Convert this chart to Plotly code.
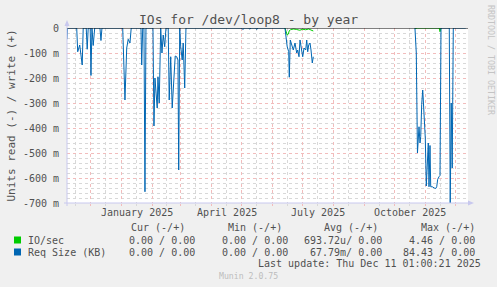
import plotly.graph_objects as go

# ---------------- data (values in milli-units) ----------------
req_dates = [
    "2024-11-07 07:00", "2024-11-07 20:00", "2024-11-17 00:00", "2024-11-18 00:00",
    "2024-11-20 00:00", "2024-11-22 12:00", "2024-11-23 12:00", "2024-11-26 12:00",
    "2024-11-27 12:00", "2024-11-28 12:00", "2024-11-30 12:00", "2024-12-01 06:00",
    "2024-12-02 06:00", "2024-12-03 12:00", "2024-12-05 00:00", "2024-12-10 06:00",
    "2024-12-11 06:00", "2024-12-12 06:00",
    "2025-01-02 00:00", "2025-01-04 06:00", "2025-01-06 00:00", "2025-01-07 12:00",
    "2025-01-09 06:00", "2025-01-10 12:00",
    "2025-01-20 06:00", "2025-01-21 00:00", "2025-01-22 00:00", "2025-01-23 06:00",
    "2025-01-24 06:00", "2025-01-25 06:00",
    "2025-02-01 06:00", "2025-02-02 06:00", "2025-02-03 06:00", "2025-02-04 06:00",
    "2025-02-05 12:00", "2025-02-06 06:00", "2025-02-07 12:00", "2025-02-09 00:00",
    "2025-02-10 06:00", "2025-02-11 12:00", "2025-02-13 00:00", "2025-02-14 06:00",
    "2025-02-16 12:00", "2025-02-17 12:00", "2025-02-19 00:00", "2025-02-20 12:00",
    "2025-02-22 06:00", "2025-02-23 12:00", "2025-02-25 00:00", "2025-02-26 06:00",
    "2025-02-27 00:00", "2025-02-28 00:00", "2025-03-01 00:00", "2025-03-02 12:00",
    "2025-03-03 12:00", "2025-03-05 00:00", "2025-03-06 06:00",
    "2025-05-01 00:00", "2025-05-02 00:00", "2025-05-03 00:00", "2025-05-04 00:00",
    "2025-05-08 00:00", "2025-05-09 00:00", "2025-05-10 00:00", "2025-05-15 00:00",
    "2025-05-16 00:00", "2025-05-17 00:00",
    "2025-06-13 06:00", "2025-06-14 06:00", "2025-06-15 12:00", "2025-06-17 00:00",
    "2025-06-17 14:00", "2025-06-18 14:00", "2025-06-20 00:00", "2025-06-21 14:00",
    "2025-06-23 07:00", "2025-06-25 00:00", "2025-06-26 00:00", "2025-06-27 07:00",
    "2025-06-28 07:00", "2025-06-30 00:00", "2025-07-01 00:00", "2025-07-02 07:00",
    "2025-07-04 00:00", "2025-07-05 00:00", "2025-07-06 00:00", "2025-07-07 00:00",
    "2025-07-08 07:00", "2025-07-09 07:00", "2025-07-10 14:00", "2025-07-11 14:00",
    "2025-07-12 12:00",
    "2025-10-21 06:00", "2025-10-22 14:00", "2025-10-23 18:00", "2025-10-25 07:00",
    "2025-10-26 07:00", "2025-10-27 00:00", "2025-10-28 00:00", "2025-10-29 00:00",
    "2025-10-29 14:00", "2025-10-30 14:00", "2025-10-31 14:00", "2025-11-01 14:00",
    "2025-11-02 18:00", "2025-11-03 14:00", "2025-11-04 07:00", "2025-11-05 07:00",
    "2025-11-06 00:00", "2025-11-07 14:00", "2025-11-09 14:00", "2025-11-11 00:00",
    "2025-11-12 00:00", "2025-11-13 00:00", "2025-11-14 07:00", "2025-11-15 07:00",
    "2025-11-16 07:00",
    "2025-11-24 14:00", "2025-11-25 12:00", "2025-11-26 12:00", "2025-11-27 12:00",
    "2025-11-28 14:00", "2025-12-11 01:00",
]
req_read = [
    -45, 0, 0, -95,
    -68, -148, 0, 0,
    -85, 0, 0, -190,
    0, -70, 0, 0,
    -50, 0,
    0, -288, -80, -45,
    -60, 0,
    0, -148, 0, 0,
    -655, 0,
    0, -392, -200, -275,
    -320, -195, -300, 0,
    -100, -28, -75, 0,
    0, -288, -115, -320,
    -200, -112, -115, -128,
    -568, 0, -75, -128,
    -60, -240, 0,
    0, -6, -3, 0,
    0, -5, 0, 0,
    -6, 0,
    0, -48, -75, -95,
    -197, -48, -68, -88,
    -60, -100, -88, -115,
    -48, -95, -115, -80,
    -88, -48, -95, -68,
    -60, -88, -140, -115,
    None,
    0, -100, -500, -395,
    -460, -435, -305, -248,
    -288, -368, -440, -632,
    -500, -460, -635, -470,
    -635, -635, -640, -642,
    -635, -605, -595, -590,
    0,
    0, -720, -300, -560,
    0, 0,
]

io_dates = [
    "2025-06-13 06:00", "2025-06-14 06:00", "2025-06-15 12:00", "2025-06-16 12:00",
    "2025-06-17 12:00", "2025-06-19 00:00", "2025-06-22 00:00", "2025-06-25 00:00",
    "2025-06-28 00:00", "2025-07-01 00:00", "2025-07-04 00:00", "2025-07-07 00:00",
    "2025-07-10 00:00", "2025-07-11 14:00", "2025-07-12 12:00",
    "2025-10-21 06:00", "2025-10-22 00:00", "2025-10-23 00:00", "2025-11-14 12:00",
    "2025-11-15 07:00", "2025-11-16 07:00",
]
io_read = [
    0, -12, -28, -25,
    -12, -6, -4, -6,
    -9, -5, -7, -4,
    -9, -12, None,
    0, -4, 0, 0,
    -15, 0,
]

y_ticks = [0, -100, -200, -300, -400, -500, -600, -700]
y_tick_text = ["0", "-100 m", "-200 m", "-300 m", "-400 m", "-500 m", "-600 m", "-700 m"]

month_starts_label = ["2025-01-16", "2025-04-16", "2025-07-16", "2025-10-16"]
month_labels = ["January 2025", "April 2025", "July 2025", "October 2025"]
minor_x = ["2024-11-16", "2024-12-16", "2025-01-16", "2025-02-15", "2025-03-16",
           "2025-04-16", "2025-05-16", "2025-06-16", "2025-07-16", "2025-08-16",
           "2025-09-16", "2025-10-16", "2025-11-16"]

legend_names = ["IO/sec", "Req Size (KB)"]
legend_colors = ["#00CC00", "#0066B3"]
col_headers = ["Cur (-/+)", "Min (-/+)", "Avg (-/+)", "Max (-/+)"]
row_values = [
    ["0.00 / 0.00", "0.00 / 0.00", "693.72u/ 0.00", "4.46 / 0.00"],
    ["0.00 / 0.00", "0.00 / 0.00", "67.79m/ 0.00", "84.43 / 0.00"],
]

# ---------------- layout helpers ----------------
W, H = 497, 287
L, R, T, B = 67, 468, 28, 203


def px(x):
    return (x - L) / (R - L)


def py(y):
    return (B - y) / (B - T)


FONT = "DejaVu Sans Mono"
TXT = "#505050"
MAJOR = "#F2BCBC"
MINOR = "#D8D8D8"
AXIS = "#C8C8EE"

fig = go.Figure()
fig.add_trace(go.Scatter(x=io_dates, y=io_read, mode="lines",
                         line=dict(color=legend_colors[0], width=1),
                         connectgaps=False, hoverinfo="skip"))
fig.add_trace(go.Scatter(x=req_dates, y=req_read, mode="lines",
                         line=dict(color=legend_colors[1], width=1),
                         connectgaps=False, hoverinfo="skip"))

shapes = [
    # zero line
    dict(type="line", xref="paper", yref="y", x0=0, x1=1, y0=0, y1=0,
         line=dict(color="black", width=1), layer="above"),
    # axes
    dict(type="line", xref="paper", yref="paper", x0=0, x1=0, y0=py(206), y1=py(22),
         line=dict(color=AXIS, width=1), layer="above"),
    dict(type="line", xref="paper", yref="paper", x0=px(64), x1=px(471), y0=0, y1=0,
         line=dict(color=AXIS, width=1), layer="above"),
    dict(type="path", xref="paper", yref="paper",
         path=f"M {px(64.5)} {py(26)} L {px(69.5)} {py(26)} L {px(67)} {py(20)} Z",
         fillcolor=AXIS, line=dict(width=0), layer="above"),
    dict(type="path", xref="paper", yref="paper",
         path=f"M {px(468)} {py(200.5)} L {px(468)} {py(205.5)} L {px(474)} {py(203)} Z",
         fillcolor=AXIS, line=dict(width=0), layer="above"),
]
for i, c in enumerate(legend_colors):
    yc = 240 + 12 * i
    shapes.append(dict(type="rect", xref="paper", yref="paper",
                       x0=px(14), x1=px(21), y0=py(yc + 3.5), y1=py(yc - 3.5),
                       fillcolor=c, line=dict(width=0)))

ann = []
ann.append(dict(text="IOs for /dev/loop8 - by year", xref="paper", yref="paper",
                x=px(248), y=py(19), xanchor="center", yanchor="middle",
                showarrow=False, font=dict(family=FONT, size=13, color=TXT)))
ann.append(dict(text="Units read (-) / write (+)", xref="paper", yref="paper",
                x=px(11), y=py(115.5), xanchor="center", yanchor="middle", textangle=-90,
                showarrow=False, font=dict(family=FONT, size=11, color=TXT)))
ann.append(dict(text="RRDTOOL / TOBI OETIKER", xref="paper", yref="paper",
                x=px(491), y=py(60), xanchor="center", yanchor="middle", textangle=90,
                showarrow=False, font=dict(family=FONT, size=8.3, color="#C4C4C4")))
for d, t in zip(month_starts_label, month_labels):
    ann.append(dict(text=t, xref="x", yref="paper", x=d, y=py(212),
                    xanchor="center", yanchor="middle", showarrow=False,
                    font=dict(family=FONT, size=10, color=TXT)))

header_right = [187, 283.5, 379.5, 476.5]
value_right = [197, 290, 383.5, 476.5]
for h, xr in zip(col_headers, header_right):
    ann.append(dict(text=h, xref="paper", yref="paper", x=px(xr), y=py(227.5),
                    xanchor="right", yanchor="middle", showarrow=False,
                    font=dict(family=FONT, size=10, color=TXT)))
for i, name in enumerate(legend_names):
    yc = 240 + 12 * i
    ann.append(dict(text=name, xref="paper", yref="paper", x=px(26), y=py(yc),
                    xanchor="left", yanchor="middle", showarrow=False,
                    font=dict(family=FONT, size=10, color=TXT)))
    for v, xr in zip(row_values[i], value_right):
        ann.append(dict(text=v, xref="paper", yref="paper", x=px(xr), y=py(yc),
                        xanchor="right", yanchor="middle", showarrow=False,
                        font=dict(family=FONT, size=10, color=TXT)))
ann.append(dict(text="Last update: Thu Dec 11 01:00:21 2025", xref="paper", yref="paper",
                x=px(482.5), y=py(263.5), xanchor="right", yanchor="middle",
                showarrow=False, font=dict(family=FONT, size=10, color=TXT)))
ann.append(dict(text="Munin 2.0.75", xref="paper", yref="paper",
                x=px(248), y=py(276), xanchor="center", yanchor="middle",
                showarrow=False, font=dict(family=FONT, size=8.2, color="#BDBDBD")))

fig.update_layout(
    width=W, height=H,
    margin=dict(l=L, r=W - R, t=T, b=H - B, pad=0),
    paper_bgcolor="#F0F0F0", plot_bgcolor="white",
    showlegend=False,
    shapes=shapes, annotations=ann,
    xaxis=dict(type="date", range=["2024-11-07 07:00", "2025-12-13 07:00"],
               tickmode="linear", tick0="2024-11-01", dtick="M1",
               showticklabels=False, showline=False, zeroline=False,
               showgrid=True, gridcolor=MAJOR, griddash="dot", gridwidth=1,
               ticks="outside", ticklen=2, tickcolor=MAJOR,
               minor=dict(tickmode="array", tickvals=minor_x, showgrid=True,
                          gridcolor=MINOR, griddash="dot", gridwidth=1,
                          ticks="outside", ticklen=2, tickcolor=MINOR)),
    yaxis=dict(range=[-700, 0], tickmode="array", tickvals=y_ticks, ticktext=y_tick_text,
               showline=False, zeroline=False,
               showgrid=True, gridcolor=MAJOR, griddash="dot", gridwidth=1,
               ticks="", ticklabelstandoff=7,
               tickfont=dict(family=FONT, size=10, color=TXT),
               minor=dict(dtick=20, tick0=0, showgrid=True, gridcolor=MINOR,
                          griddash="dot", gridwidth=1)),
)

fig.write_html("out.html")
